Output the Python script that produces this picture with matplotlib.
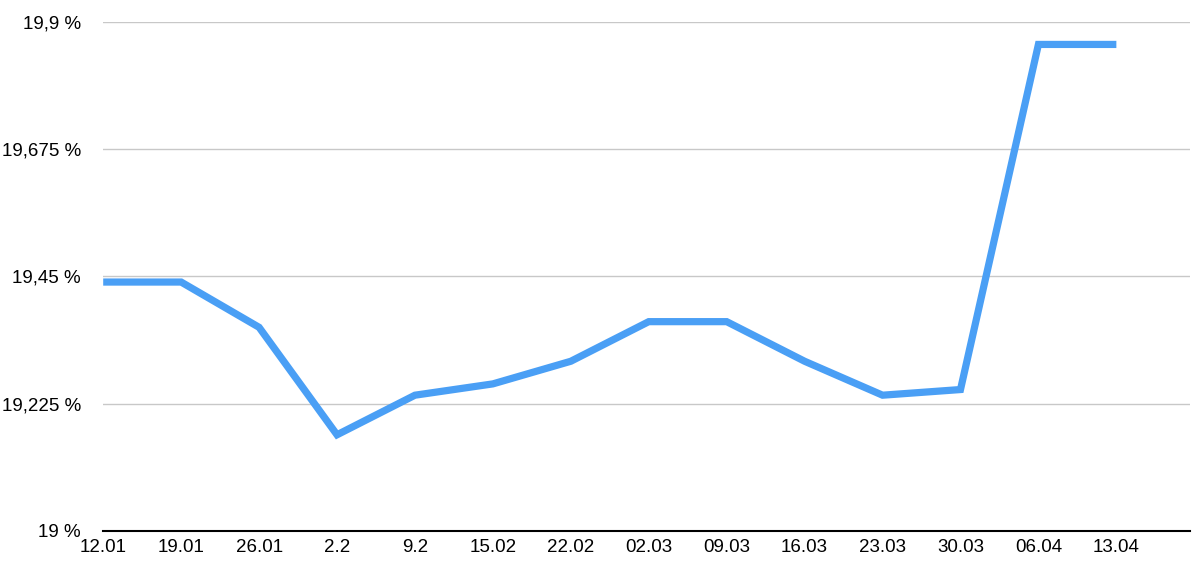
import numpy as np
import matplotlib.pyplot as plt
from matplotlib.ticker import FuncFormatter

dates = ['12.01', '19.01', '26.01', '2.2', '9.2', '15.02', '22.02',
         '02.03', '09.03', '16.03', '23.03', '30.03', '06.04', '13.04']
values = [19.44, 19.44, 19.36, 19.17, 19.24, 19.26, 19.30,
          19.37, 19.37, 19.30, 19.24, 19.25, 19.86, 19.86]
yticks = [19, 19.225, 19.45, 19.675, 19.9]

plt.rcParams['font.family'] = ['Liberation Sans', 'DejaVu Sans']

fig = plt.figure(figsize=(12, 5.62), dpi=100)
ax = fig.add_axes([0.086, 0.0552, 0.906, 0.906])

x = np.arange(len(dates))
ax.plot(x, values, color='#4A9FF5', linewidth=5.2, solid_joinstyle='miter',
        solid_capstyle='butt', zorder=3)

ax.set_xlim(0, 13.95)
ax.set_ylim(19, 19.9)
ax.set_xticks(x)
ax.set_xticklabels(dates)
ax.set_yticks(yticks)


def fmt(v, pos):
    s = ('%.3f' % v).rstrip('0').rstrip('.')
    return s.replace('.', ',') + ' %'


ax.yaxis.set_major_formatter(FuncFormatter(fmt))
ax.grid(axis='y', color='#c8c8c8', linewidth=1)
ax.set_axisbelow(True)
for s in ['top', 'right', 'left']:
    ax.spines[s].set_visible(False)
ax.spines['bottom'].set_color('black')
ax.spines['bottom'].set_linewidth(1.5)
ax.spines['bottom'].set_zorder(4)
ax.tick_params(axis='both', length=0, labelsize=13.5)
ax.tick_params(axis='y', pad=16)
ax.tick_params(axis='x', pad=6)

plt.savefig('out.png')
